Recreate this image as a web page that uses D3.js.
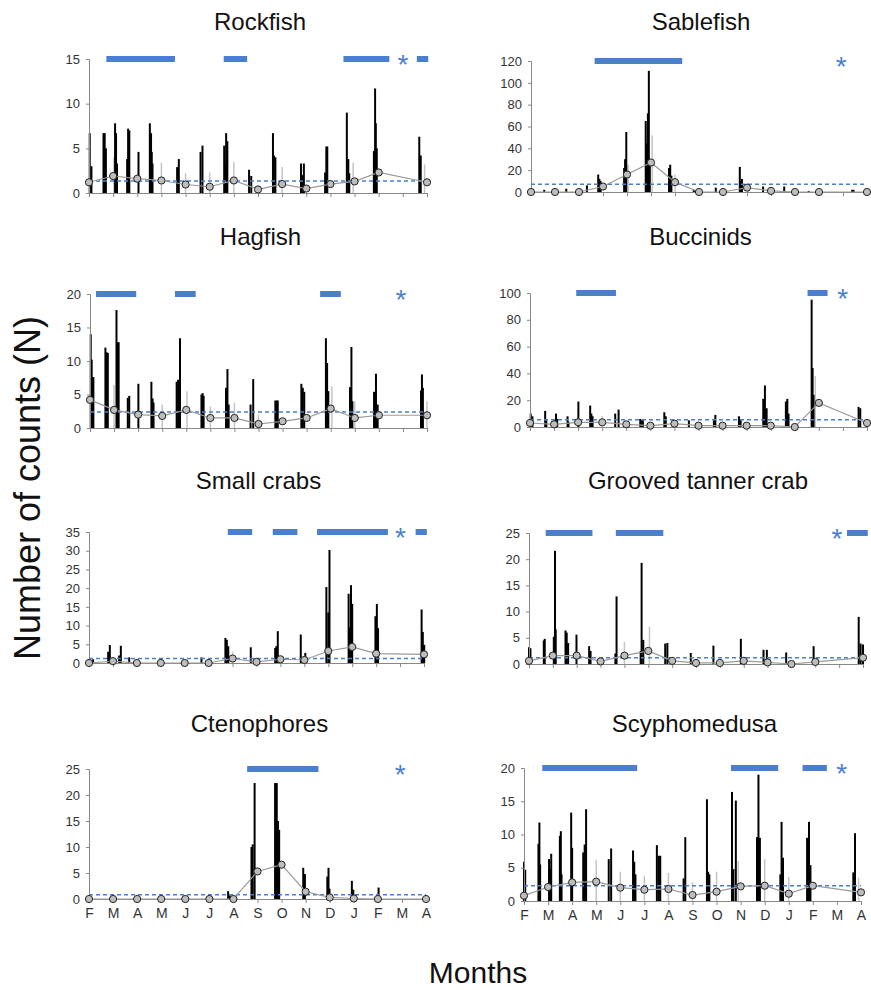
<!DOCTYPE html>
<html>
<head>
<meta charset="utf-8">
<script src="https://cdn.jsdelivr.net/npm/d3@7.9.0/dist/d3.min.js"></script>
<style>
  body { margin: 0; background: #fff; }
  text { font-family: "Liberation Sans", Arial, sans-serif; }
</style>
</head>
<body>
<svg id="chart" width="871" height="990"></svg>
<script>
// month ticks, Feb -> Apr of the following year
const monthLabels = ["F", "M", "A", "M", "J", "J", "A", "S", "O", "N", "D", "J", "F", "M", "A"];

// ---------- DATA (x in months from first F, y = counts) ----------

const rockfishSpikes = [
  [0.03, 6.7], [0.1, 3.0],
  [0.6, 6.7], [0.65, 6.7], [0.7, 5.0],
  [1.08, 7.8], [1.12, 6.7], [1.16, 3.3],
  [1.58, 3.8], [1.62, 7.2], [1.67, 7.0],
  [2.05, 4.6],
  [2.52, 7.8], [2.57, 6.7], [2.6, 4.6], [2.63, 3.3],
  [3.65, 2.9], [3.72, 3.8],
  [4.62, 4.6], [4.7, 5.3],
  [5.6, 5.3], [5.65, 3.3], [5.68, 6.7], [5.73, 5.8],
  [6.63, 2.6], [6.72, 1.9],
  [7.62, 6.7], [7.66, 4.2], [7.72, 4.0],
  [8.78, 3.3], [8.82, 2.0], [8.9, 3.3],
  [9.78, 2.3], [9.83, 5.2], [9.87, 5.2],
  [10.68, 9.0], [10.74, 3.8], [10.78, 2.2],
  [11.8, 4.7], [11.85, 11.7], [11.88, 7.8], [11.92, 5.0],
  [13.68, 6.3], [13.74, 4.2]
];
const rockfishErr = [[1.03, 4.0], [3, 3.4], [4, 2.2], [5, 2.3], [6, 3.5], [8, 2.9], [10.94, 3.4], [13.9, 3.2]];
const rockfishMeans = [[0, 1.2], [1, 1.9], [2, 1.6], [3, 1.4], [4, 0.95], [5, 0.7], [6, 1.4], [7, 0.4], [8, 1.0], [9, 0.5], [10, 1.0], [11, 1.3], [12, 2.3], [14, 1.2]];
const rockfishBars = [[0.72, 3.56], [5.58, 6.55], [10.54, 12.44], [13.58, 14.05]];
const rockfishStar = 13.0;
const rockfishAvg = 1.35;

const sablefishSpikes = [
  [0.55, 2], [1.47, 3], [2.33, 6],
  [2.8, 16], [2.85, 12], [2.9, 10],
  [3.88, 22], [3.92, 30], [3.97, 55],
  [4.78, 65], [4.83, 45], [4.87, 72], [4.91, 111], [4.95, 25],
  [5.75, 22], [5.8, 25], [5.85, 15],
  [6.78, 2], [6.85, 1], [7.7, 4],
  [8.7, 23], [8.75, 10], [8.79, 12],
  [9.67, 5], [10.55, 5], [11.57, 1], [13.38, 2], [13.44, 2]
];
const sablefishErr = [[4.05, 25], [5.05, 52], [6, 16], [9.05, 8]];
const sablefishMeans = [[0, 0], [1, 0], [2, 0], [3, 5], [4, 16], [5, 27], [6, 9], [7, 0], [8, 0], [9, 4], [10, 1], [11, 0], [12, 0], [14, 0]];
const sablefishBars = [[2.65, 6.3]];
const sablefishStar = 12.93;
const sablefishAvg = 7;

const hagfishSpikes = [
  [0.03, 14], [0.07, 10.2], [0.1, 7.6], [0.14, 7.6],
  [0.64, 12], [0.69, 11.3], [0.74, 11.2],
  [1.1, 17.6], [1.15, 12.8], [1.19, 12.8],
  [1.57, 4.5], [1.63, 4.8],
  [2.01, 6.6],
  [2.55, 6.9], [2.6, 4.4], [2.64, 3.8],
  [3.6, 6.9], [3.66, 7.2], [3.74, 13.4],
  [4.63, 5.0], [4.68, 5.2], [4.72, 4.8],
  [5.65, 6.0], [5.71, 8.8], [5.76, 3.5],
  [6.67, 3.5], [6.78, 7.3],
  [7.7, 4.1], [7.75, 4.1], [7.8, 4.1],
  [8.78, 6.6], [8.84, 6.0], [8.9, 5.4],
  [9.8, 13.4], [9.85, 9.7], [9.9, 5.5],
  [10.8, 6.1], [10.86, 12.1], [10.9, 4.0],
  [11.8, 5.4], [11.88, 8.1], [11.95, 3.5],
  [13.75, 5.6], [13.79, 8.0], [13.83, 6.0]
];
const hagfishErr = [[1.0, 6.4], [3, 3.5], [4.03, 5.5], [5, 3.2], [6, 3.8], [7, 2.0], [10.05, 6.2], [11, 4.0], [14, 4.0]];
const hagfishMeans = [[0, 4.2], [1, 2.7], [2, 2.0], [3, 1.8], [4, 2.7], [5, 1.5], [6, 1.5], [7, 0.6], [8, 1.0], [9, 1.5], [10, 2.9], [11, 1.5], [12, 1.9], [14, 1.9]];
const hagfishBars = [[0.25, 1.92], [3.53, 4.39], [9.56, 10.42]];
const hagfishStar = 12.92;
const hagfishAvg = 2.4;

const buccinidSpikes = [
  [0.03, 10], [0.1, 8],
  [0.63, 12], [0.68, 5],
  [1.08, 10], [1.13, 6],
  [1.56, 8], [1.6, 4],
  [2.01, 19],
  [2.5, 16], [2.55, 10], [2.6, 8],
  [3.54, 10], [3.68, 13],
  [4.58, 6], [4.64, 5], [4.69, 5],
  [5.58, 11], [5.64, 8],
  [6.6, 5],
  [7.64, 5], [7.7, 9],
  [8.68, 8], [8.75, 6],
  [9.69, 21], [9.76, 31], [9.83, 14],
  [10.63, 19], [10.69, 21], [10.74, 10],
  [11.7, 95], [11.74, 44], [11.78, 24],
  [13.65, 15], [13.72, 14]
];
const buccinidErr = [[0.1, 3], [3, 8], [11.85, 38]];
const buccinidMeans = [[0, 3], [1, 2], [2, 3.5], [3, 3.5], [4, 2], [5, 1], [6, 2.5], [7, 1], [8, 1], [9, 1], [10, 1], [11, 0], [12, 18], [14, 3]];
const buccinidBars = [[1.92, 3.57], [11.53, 12.36]];
const buccinidStar = 12.99;
const buccinidAvg = 5.5;

const smallCrabSpikes = [
  [0.17, 1],
  [0.8, 3], [0.87, 4.8],
  [1.26, 2], [1.33, 4.6],
  [1.68, 1.5],
  [4.7, 1.5],
  [5.7, 6.7], [5.76, 6.2], [5.82, 4.5],
  [6.76, 4.2],
  [7.78, 4], [7.83, 4.5], [7.89, 8.5],
  [8.85, 7.6], [9.04, 2.7],
  [9.92, 20.3], [10.0, 13.5], [10.05, 30.2],
  [10.85, 18.5], [10.9, 9.5], [10.95, 20.8], [11.0, 15.8],
  [11.97, 12.5], [12.03, 15.8], [12.08, 9.3],
  [13.9, 14.3], [13.95, 8.3], [14.0, 4.8]
];
const smallCrabErr = [[6, 3], [14.05, 5]];
const smallCrabMeans = [[0, 0], [1, 0.5], [2, 0], [3, 0], [4, 0], [5, 0], [6, 1.2], [7, 0.3], [8, 1.0], [9, 0.8], [10, 3.2], [11, 4.3], [12, 2.5], [14, 2.3]];
const smallCrabBars = [[5.8, 6.82], [7.68, 8.71], [9.53, 12.49], [13.65, 14.12]];
const smallCrabStar = 13.02;
const smallCrabAvg = 1.2;

const tannerSpikes = [
  [0.0, 3.2], [0.06, 3.0],
  [0.62, 4.5], [0.66, 4.8],
  [1.05, 5.2], [1.09, 21.6], [1.12, 6.6],
  [1.53, 6.4], [1.58, 6.0], [1.64, 4.0],
  [1.99, 5.6],
  [2.52, 3.4], [2.58, 2.5],
  [3.62, 2.0], [3.67, 12.9],
  [4.68, 2.5], [4.72, 19.3], [4.79, 4.6],
  [5.71, 3.9], [5.8, 4.0],
  [6.78, 2.1], [7.73, 3.5], [8.88, 4.8],
  [9.83, 2.7], [9.97, 2.7],
  [10.78, 2.2], [11.93, 3.4],
  [13.82, 9.0], [13.9, 3.9], [14.0, 3.7]
];
const tannerErr = [[1.0, 5.2], [4, 4.2], [5.05, 7.1]];
const tannerMeans = [[0, 0.6], [1, 1.6], [2, 1.6], [3, 0.5], [4, 1.6], [5, 2.5], [6, 0.6], [7, 0.2], [8, 0.2], [9, 0.6], [10, 0.3], [11, 0.0], [12, 0.4], [14, 1.2]];
const tannerBars = [[0.7, 2.66], [3.64, 5.63], [13.33, 14.2]];
const tannerStar = 12.91;
const tannerAvg = 1.2;

const ctenoSpikes = [
  [5.78, 1.5], [5.85, 0.7],
  [6.75, 10.0], [6.8, 10.5], [6.88, 22.3],
  [7.73, 22.3], [7.8, 22.3], [7.85, 15], [7.9, 13.3],
  [8.9, 6.0], [8.97, 4.8],
  [9.9, 4.3], [9.95, 6.0], [9.99, 2.0],
  [10.92, 3.5], [10.98, 1.8],
  [12.03, 2.2]
];
const ctenoErr = [];
const ctenoMeans = [[0, 0], [1, 0], [2, 0], [3, 0], [4, 0], [5, 0], [6, 0], [7, 5.3], [8, 6.6], [9, 1.4], [10, 0.3], [11, 0.1], [12, 0], [14, 0]];
const ctenoBars = [[6.57, 9.53]];
const ctenoStar = 12.93;
const ctenoAvg = 0.8;

const scyphoSpikes = [
  [0.0, 5.9], [0.05, 4.7],
  [0.6, 8.6], [0.64, 11.8], [0.67, 5.5],
  [1.04, 6.3], [1.09, 4.8], [1.13, 7.1],
  [1.49, 9.8], [1.53, 10.5], [1.56, 4.0],
  [1.96, 13.3], [2.0, 8.0],
  [2.46, 7.3], [2.52, 8.5], [2.58, 13.8],
  [3.52, 6.3], [3.62, 7.9],
  [4.53, 7.6], [4.58, 5.9], [4.63, 4.0],
  [5.52, 8.4], [5.6, 6.8], [5.66, 6.8],
  [6.63, 3.4], [6.7, 9.6],
  [7.6, 15.3], [7.65, 4.4], [7.7, 4.0],
  [8.64, 16.4], [8.7, 4.8], [8.8, 15.1],
  [9.68, 9.6], [9.74, 19.0], [9.8, 9.5],
  [10.65, 4.0], [10.7, 11.9], [10.76, 6.5],
  [11.76, 9.5], [11.84, 11.9], [11.9, 5.4],
  [13.68, 4.3], [13.75, 10.2]
];
const scyphoErr = [[3, 6.2], [4, 4.4], [5, 3.8], [6, 4.2], [7, 2.8], [8, 4.4], [8.9, 6.0], [10, 6.3], [11, 3.6], [13.9, 3.5]];
const scyphoMeans = [[0, 0.8], [1, 2.1], [2, 2.8], [3, 2.9], [4, 2.0], [5, 1.7], [6, 1.8], [7, 0.9], [8, 1.4], [9, 2.2], [10, 2.3], [11, 1.1], [12, 2.3], [14, 1.3]];
const scyphoBars = [[0.76, 4.7], [8.6, 10.56], [11.57, 12.58]];
const scyphoStar = 13.2;
const scyphoAvg = 2.3;

// ---------- PANEL LAYOUT ----------

const panels = [
  { title: "Rockfish", x0: 89, x1: 427, yTop: 59, yBot: 193, yMax: 15, step: 5, ty: 30,
    spikes: rockfishSpikes, err: rockfishErr, means: rockfishMeans, bars: rockfishBars, star: rockfishStar, avg: rockfishAvg },
  { title: "Sablefish", x0: 531, x1: 867, yTop: 61, yBot: 192, yMax: 120, step: 20, ty: 30,
    spikes: sablefishSpikes, err: sablefishErr, means: sablefishMeans, bars: sablefishBars, star: sablefishStar, avg: sablefishAvg },
  { title: "Hagfish", x0: 90, x1: 427, yTop: 294, yBot: 428, yMax: 20, step: 5, ty: 245,
    spikes: hagfishSpikes, err: hagfishErr, means: hagfishMeans, bars: hagfishBars, star: hagfishStar, avg: hagfishAvg },
  { title: "Buccinids", x0: 530, x1: 867, yTop: 293, yBot: 427, yMax: 100, step: 20, ty: 245,
    spikes: buccinidSpikes, err: buccinidErr, means: buccinidMeans, bars: buccinidBars, star: buccinidStar, avg: buccinidAvg },
  { title: "Small crabs", x0: 89, x1: 424, yTop: 532, yBot: 663, yMax: 35, step: 5, ty: 489,
    spikes: smallCrabSpikes, err: smallCrabErr, means: smallCrabMeans, bars: smallCrabBars, star: smallCrabStar, avg: smallCrabAvg },
  { title: "Grooved tanner crab", x0: 529, x1: 863, yTop: 533, yBot: 664, yMax: 25, step: 5, ty: 489,
    spikes: tannerSpikes, err: tannerErr, means: tannerMeans, bars: tannerBars, star: tannerStar, avg: tannerAvg },
  { title: "Ctenophores", x0: 89, x1: 426, yTop: 769, yBot: 899, yMax: 25, step: 5, ty: 732, months: true,
    spikes: ctenoSpikes, err: ctenoErr, means: ctenoMeans, bars: ctenoBars, star: ctenoStar, avg: ctenoAvg },
  { title: "Scyphomedusa", x0: 524, x1: 861, yTop: 768, yBot: 901, yMax: 20, step: 5, ty: 732, months: true,
    spikes: scyphoSpikes, err: scyphoErr, means: scyphoMeans, bars: scyphoBars, star: scyphoStar, avg: scyphoAvg }
];

const blue = "#4a7fd0";
const svg = d3.select("#chart");

function drawPanel(p) {
  const x = d3.scaleLinear().domain([0, 14]).range([p.x0, p.x1]);
  const y = d3.scaleLinear().domain([0, p.yMax]).range([p.yBot, p.yTop]);
  const g = svg.append("g");

  // title
  g.append("text")
    .attr("x", (p.x0 + p.x1) / 2 + 2)
    .attr("y", p.ty)
    .attr("text-anchor", "middle")
    .attr("font-size", 24)
    .attr("fill", "#111")
    .text(p.title);

  // grey sd whiskers
  g.selectAll(".err").data(p.err).join("line")
    .attr("x1", d => x(d[0])).attr("x2", d => x(d[0]))
    .attr("y1", y(0)).attr("y2", d => y(d[1]))
    .attr("stroke", "#c4c4c4").attr("stroke-width", 1.5);

  // black spikes
  g.selectAll(".spike").data(p.spikes).join("line")
    .attr("x1", d => x(d[0])).attr("x2", d => x(d[0]))
    .attr("y1", y(0)).attr("y2", d => y(d[1]))
    .attr("stroke", "#000").attr("stroke-width", 2);

  // axes
  const yAxis = d3.axisLeft(y)
    .tickValues(d3.range(0, p.yMax + 0.001, p.step))
    .tickSize(3).tickPadding(6);
  const yG = g.append("g").attr("transform", `translate(${p.x0},0)`).call(yAxis);
  yG.select(".domain").attr("stroke", "#888");
  yG.selectAll(".tick line").attr("stroke", "#888");
  yG.selectAll(".tick text").attr("font-size", 13).attr("fill", "#333")
    .attr("font-family", "Liberation Sans, Arial, sans-serif");

  const xAxis = d3.axisBottom(x)
    .tickValues(d3.range(0, 15))
    .tickSize(4).tickSizeOuter(0).tickPadding(5)
    .tickFormat(i => p.months ? monthLabels[i] : "");
  const xG = g.append("g").attr("transform", `translate(0,${p.yBot})`).call(xAxis);
  xG.select(".domain").attr("stroke", "#888");
  xG.selectAll(".tick line").attr("stroke", "#888");
  xG.selectAll(".tick text").attr("font-size", 14).attr("fill", "#333")
    .attr("font-family", "Liberation Sans, Arial, sans-serif");

  // overall mean
  g.append("line")
    .attr("x1", p.x0).attr("x2", p.x1)
    .attr("y1", y(p.avg)).attr("y2", y(p.avg))
    .attr("stroke", blue).attr("stroke-width", 1.5)
    .attr("stroke-dasharray", "4,3");

  // monthly means
  const line = d3.line().x(d => x(d[0])).y(d => y(d[1]));
  g.append("path").datum(p.means)
    .attr("d", line)
    .attr("fill", "none").attr("stroke", "#9a9a9a").attr("stroke-width", 1.2);
  g.selectAll(".mean").data(p.means).join("circle")
    .attr("cx", d => x(d[0])).attr("cy", d => y(d[1]))
    .attr("r", 3.6)
    .attr("fill", "#bdbdbd").attr("stroke", "#222").attr("stroke-width", 1);

  // significant periods
  g.selectAll(".sig").data(p.bars).join("rect")
    .attr("x", d => x(d[0])).attr("width", d => x(d[1]) - x(d[0]))
    .attr("y", y(p.yMax) - 3).attr("height", 6)
    .attr("fill", blue);

  g.append("text")
    .attr("x", x(p.star)).attr("y", y(p.yMax) + 15)
    .attr("text-anchor", "middle")
    .attr("font-size", 28)
    .attr("fill", blue)
    .text("*");
}

panels.forEach(drawPanel);

svg.append("text")
  .attr("transform", "translate(40,488) rotate(-90)")
  .attr("text-anchor", "middle")
  .attr("font-size", 36)
  .attr("fill", "#111")
  .text("Number of counts (N)");

svg.append("text")
  .attr("x", 478).attr("y", 983)
  .attr("text-anchor", "middle")
  .attr("font-size", 30)
  .attr("fill", "#111")
  .text("Months");
</script>
</body>
</html>
